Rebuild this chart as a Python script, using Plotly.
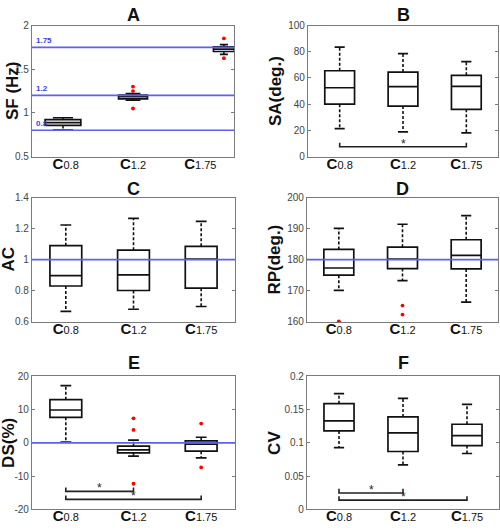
import plotly.graph_objects as go

# ---------------- data ----------------
cat_nums = ["0.8", "1.2", "1.75"]
panel_letters = ["A", "B", "C", "D", "E", "F"]
y_titles = ["SF (Hz)", "SA(deg.)", "AC", "RP(deg.)", "DS(%)", "CV"]

# A: SF (Hz)
sf_q1 = [0.856, 1.160, 1.703]
sf_med = [0.889, 1.187, 1.730]
sf_q3 = [0.922, 1.203, 1.756]
sf_lo = [0.803, 1.146, 1.670]
sf_hi = [0.944, 1.222, 1.781]
sf_out = [[], [1.30, 1.25, 1.05], [1.852, 1.626]]
sf_ref = [0.8, 1.2, 1.75]

# B: SA (deg.)
sa_q1 = [40.0, 38.5, 36.0]
sa_med = [52.5, 53.3, 53.5]
sa_q3 = [65.5, 64.5, 62.0]
sa_lo = [21.3, 18.8, 18.1]
sa_hi = [83.5, 78.5, 72.5]
sa_out = [[], [], []]

# C: AC
ac_q1 = [0.830, 0.801, 0.816]
ac_med = [0.897, 0.902, 1.004]
ac_q3 = [1.090, 1.061, 1.086]
ac_lo = [0.667, 0.680, 0.698]
ac_hi = [1.223, 1.266, 1.247]
ac_out = [[], [], []]
ac_ref = [1.0]

# D: RP (deg.)
rp_q1 = [175.0, 177.1, 177.0]
rp_med = [177.3, 180.2, 181.4]
rp_q3 = [183.3, 184.0, 186.4]
rp_lo = [170.1, 173.2, 166.3]
rp_hi = [190.1, 191.4, 194.2]
rp_out = [[160.1], [165.2, 162.3], []]
rp_ref = [180.0]

# E: DS (%)
ds_q1 = [7.7, -3.0, -2.5]
ds_med = [9.9, -2.1, -0.4]
ds_q3 = [13.0, -1.0, 0.6]
ds_lo = [0.2, -4.0, -4.5]
ds_hi = [17.2, 0.8, 1.7]
ds_out = [[], [7.4, 3.9, -12.3], [5.8, -7.4]]
ds_ref = [0.0]

# F: CV
cv_q1 = [0.118, 0.087, 0.096]
cv_med = [0.133, 0.115, 0.111]
cv_q3 = [0.159, 0.139, 0.128]
cv_lo = [0.093, 0.067, 0.084]
cv_hi = [0.174, 0.167, 0.158]
cv_out = [[], [], []]

# significance brackets: (from category, to category, bar level, arm top)
sa_sig = [(1, 3, 7.5, 10.5)]
ds_sig = [(1, 2, -14.6, -13.4), (1, 3, -17.0, -15.8)]
cv_sig = [(1, 2, 0.0245, 0.031), (1, 3, 0.0138, 0.0198)]

# y axes: range and ticks
y_ranges = [[0.5, 2], [0, 100], [0.6, 1.4], [160, 200], [-20, 20], [0, 0.2]]
y_ticks = [
    [0.5, 1, 1.5, 2],
    [0, 20, 40, 60, 80, 100],
    [0.6, 0.8, 1, 1.2, 1.4],
    [160, 170, 180, 190, 200],
    [-20, -10, 0, 10, 20],
    [0, 0.05, 0.1, 0.15, 0.2],
]
y_ticktext = [
    ["0.5", "1", "1.5", "2"],
    ["0", "20", "40", "60", "80", "100"],
    ["0.6", "0.8", "1", "1.2", "1.4"],
    ["160", "170", "180", "190", "200"],
    ["-20", "-10", "0", "10", "20"],
    ["0", "0.05", "0.1", "0.15", "0.2"],
]

panels = [
    dict(q1=sf_q1, med=sf_med, q3=sf_q3, lo=sf_lo, hi=sf_hi, out=sf_out, ref=sf_ref, sig=[]),
    dict(q1=sa_q1, med=sa_med, q3=sa_q3, lo=sa_lo, hi=sa_hi, out=sa_out, ref=[], sig=sa_sig),
    dict(q1=ac_q1, med=ac_med, q3=ac_q3, lo=ac_lo, hi=ac_hi, out=ac_out, ref=ac_ref, sig=[]),
    dict(q1=rp_q1, med=rp_med, q3=rp_q3, lo=rp_lo, hi=rp_hi, out=rp_out, ref=rp_ref, sig=[]),
    dict(q1=ds_q1, med=ds_med, q3=ds_q3, lo=ds_lo, hi=ds_hi, out=ds_out, ref=ds_ref, sig=ds_sig),
    dict(q1=cv_q1, med=cv_med, q3=cv_q3, lo=cv_lo, hi=cv_hi, out=cv_out, ref=[], sig=cv_sig),
]

# ---------------- layout / style ----------------
W, H = 500, 530
# plot areas in pixels: (left, right, top, bottom)
areas = [
    (32, 234, 20, 154),
    (308, 498, 20, 154),
    (32, 235, 196, 323),
    (307, 498, 196, 323),
    (32, 235, 379, 515),
    (307, 499, 379, 515),
]
ytitle_x = [12, 275, 9, 275, 9, 275]
title_y = [9.5, 9.5, 187, 187, 365, 365]

# box x-positions / widths (panel A is drawn squeezed like the original)
pos_default = [1, 2, 3]
box_w_default = [0.47, 0.47, 0.47]
cap_default = [0.08, 0.08, 0.08]
pos_A = [0.96, 2.0, 3.35]
box_w_A = [0.53, 0.43, 0.31]
cap_A = [0.15, 0.11, 0.06]

FONT = "Liberation Sans, Arial, sans-serif"
FRAME = "#7a7a7a"
BLUE = "rgb(95,95,240)"

tick_labels = [f"<b>C</b><span style='font-size:11px'>{c}</span>" for c in cat_nums]

fig = go.Figure()
layout = dict(
    width=W, height=H, margin=dict(l=0, r=0, t=0, b=0),
    paper_bgcolor="white", plot_bgcolor="white", showlegend=False,
    font=dict(family=FONT, color="black"),
)
annotations = []
shapes = []

for i, p in enumerate(panels):
    n = i + 1
    xa = "x" if n == 1 else f"x{n}"
    ya = "y" if n == 1 else f"y{n}"
    xkey = "xaxis" if n == 1 else f"xaxis{n}"
    ykey = "yaxis" if n == 1 else f"yaxis{n}"
    l, r, t, b = areas[i]
    layout[xkey] = dict(
        domain=[l / W, r / W], anchor=ya, range=[0.5, 3.5],
        tickmode="array", tickvals=[1, 2, 3], ticktext=tick_labels,
        ticks="", showgrid=False, zeroline=False, ticklabelstandoff=-7,
        showline=True, mirror=True, linecolor=FRAME, linewidth=1.3,
        tickfont=dict(size=15, color="#111", family=FONT),
    )
    layout[ykey] = dict(
        domain=[1 - b / H, 1 - t / H], anchor=xa, range=y_ranges[i],
        tickmode="array", tickvals=y_ticks[i], ticktext=y_ticktext[i],
        ticks="inside", ticklen=3, tickcolor=FRAME, tickwidth=1,
        showgrid=False, zeroline=False,
        showline=True, mirror="ticks", linecolor=FRAME, linewidth=1.3,
        tickfont=dict(size=10, color="#444", family=FONT),
    )

    pos = pos_A if i == 0 else pos_default
    bw = box_w_A if i == 0 else box_w_default
    cw = cap_A if i == 0 else cap_default

    # reference lines
    for rv in p["ref"]:
        shapes.append(dict(
            type="line", xref=f"{xa} domain", yref=ya, x0=0, x1=1, y0=rv, y1=rv,
            line=dict(color=BLUE, width=1.6), layer="above",
        ))
        if i == 0:
            annotations.append(dict(
                xref=f"{xa} domain", yref=ya, x=0.01, y=rv, text=f"<b>{rv:g}</b>",
                showarrow=False, xanchor="left", yanchor="bottom",
                font=dict(size=8, color="rgb(60,60,230)", family=FONT),
            ))

    for k in range(3):
        # box
        fig.add_trace(go.Box(
            x=[pos[k]], q1=[p["q1"][k]], median=[p["med"][k]], q3=[p["q3"][k]],
            lowerfence=[p["q1"][k]], upperfence=[p["q3"][k]],
            width=bw[k], whiskerwidth=0, boxpoints=False,
            fillcolor="rgba(255,255,255,0)", line=dict(color="#111", width=1.7),
            xaxis=xa, yaxis=ya, hoverinfo="skip",
        ))
        # dashed whiskers
        fig.add_trace(go.Scatter(
            x=[pos[k], pos[k], None, pos[k], pos[k]],
            y=[p["q3"][k], p["hi"][k], None, p["q1"][k], p["lo"][k]],
            mode="lines", line=dict(color="#111", width=1.6, dash="3px,2px"),
            xaxis=xa, yaxis=ya, hoverinfo="skip",
        ))
        # whisker caps
        fig.add_trace(go.Scatter(
            x=[pos[k] - cw[k], pos[k] + cw[k], None, pos[k] - cw[k], pos[k] + cw[k]],
            y=[p["hi"][k], p["hi"][k], None, p["lo"][k], p["lo"][k]],
            mode="lines", line=dict(color="#111", width=1.7),
            xaxis=xa, yaxis=ya, hoverinfo="skip",
        ))
        # outliers
        if p["out"][k]:
            fig.add_trace(go.Scatter(
                x=[pos[k]] * len(p["out"][k]), y=p["out"][k], mode="markers",
                marker=dict(color="red", size=3.8, symbol="circle"),
                xaxis=xa, yaxis=ya, hoverinfo="skip", cliponaxis=False,
            ))

    # significance brackets
    for (c0, c1, lvl, top) in p["sig"]:
        fig.add_trace(go.Scatter(
            x=[c0, c0, c1, c1], y=[top, lvl, lvl, top], mode="lines",
            line=dict(color="#222", width=1.6),
            xaxis=xa, yaxis=ya, hoverinfo="skip",
        ))
        annotations.append(dict(
            xref=xa, yref=ya, x=(c0 + c1) / 2, y=lvl, text="*", showarrow=False,
            xanchor="center", yanchor="middle", yshift=3,
            font=dict(size=12, color="#222", family=FONT),
        ))

    # panel title
    annotations.append(dict(
        xref="paper", yref="paper", x=(l + r) / 2 / W, y=1 - title_y[i] / H,
        text=f"<b>{panel_letters[i]}</b>", showarrow=False,
        xanchor="center", yanchor="middle", font=dict(size=18, color="#111", family=FONT),
    ))
    # y-axis title
    annotations.append(dict(
        xref="paper", yref="paper", x=ytitle_x[i] / W, y=1 - (t + b) / 2 / H,
        text=f"<b>{y_titles[i]}</b>", showarrow=False, textangle=-90,
        xanchor="center", yanchor="middle", font=dict(size=17, color="#111", family=FONT),
    ))

layout["annotations"] = annotations
layout["shapes"] = shapes
fig.update_layout(**layout)
fig.write_html(
    "out.html",
    config={"displayModeBar": False},
    post_script="document.body.style.margin='0';",
)
